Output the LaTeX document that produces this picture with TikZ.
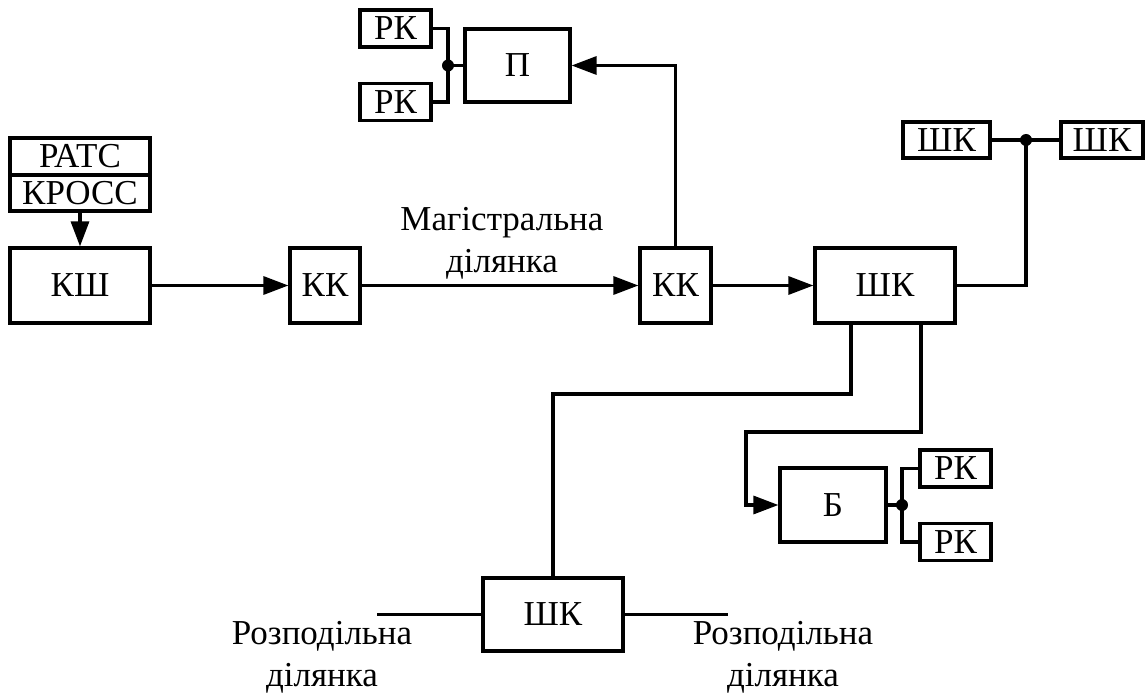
\documentclass[tikz,border=0pt]{standalone}
\usepackage{fontspec}
\setmainfont{Liberation Serif}
\usetikzlibrary{arrows.meta}
\begin{document}
\begin{tikzpicture}[x=1pt,y=-1pt,
  every node/.style={font=\fontsize{35}{42}\selectfont},
  blk/.style={draw,line width=3.2pt,rectangle,inner sep=0pt,anchor=center},
  lbl/.style={align=center,inner sep=0pt,anchor=base},
  wire/.style={line width=3.2pt},
  arr/.style={line width=3.2pt,-{Triangle[length=25pt,width=18pt]}},
  dotc/.style={fill=black}
]
\useasboundingbox (0,0) rectangle (1145,695);

% boxes
\node[blk,minimum width=140pt,minimum height=37pt] (rats) at (80,156.5) {РАТС};
\node[blk,minimum width=140pt,minimum height=36pt] (kross) at (80,193) {КРОСС};
\node[blk,minimum width=140pt,minimum height=75pt] (ksh) at (80,285.5) {КШ};
\node[blk,minimum width=70pt,minimum height=75pt] (kk1) at (325,285.5) {КК};
\node[blk,minimum width=71pt,minimum height=75pt] (kk2) at (675.5,285.5) {КК};
\node[blk,minimum width=140pt,minimum height=75pt] (shk) at (885,285.5) {ШК};
\node[blk,minimum width=105pt,minimum height=73pt] (p) at (517.5,65.5) {П};
\node[blk,minimum width=71pt,minimum height=37pt] (rk1) at (395.5,28.5) {РК};
\node[blk,minimum width=71pt,minimum height=37pt] (rk2) at (395.5,102) {РК};
\node[blk,minimum width=87pt,minimum height=36pt] (shtl) at (946.5,140) {ШК};
\node[blk,minimum width=82pt,minimum height=36pt] (shtr) at (1102,140) {ШК};
\node[blk,minimum width=106pt,minimum height=74pt] (b) at (833,505) {Б};
\node[blk,minimum width=71pt,minimum height=37pt] (rk3) at (955.5,468.5) {РК};
\node[blk,minimum width=71pt,minimum height=37pt] (rk4) at (955.5,542) {РК};
\node[blk,minimum width=140pt,minimum height=73pt] (shb) at (553,614.5) {ШК};

% labels (base = baseline of last line)
\node[lbl] (mag) at (502,272) {Магістральна\\ділянка};
\node[lbl] (rozl) at (322,686) {Розподільна\\ділянка};
\node[lbl] (rozr) at (783,686) {Розподільна\\ділянка};

% coordinates
\coordinate (d1) at (448,65.5);
\coordinate (d2) at (1026,140);
\coordinate (d3) at (902,505);
\coordinate (j1) at (851,394);
\coordinate (j2) at (921,432);
\coordinate (j3) at (746,432);
\coordinate (el) at (377,614.5);
\coordinate (er) at (728,614.5);

% connectors
\draw[arr] (kross.south) -- (ksh.north);
\draw[arr] (ksh.east) -- (kk1.west);
\draw[arr] (kk1.east) -- (kk2.west);
\draw[arr] (kk2.east) -- (shk.west);
\draw[arr] (kk2.north) |- (p.east);
\draw[wire] (rk1.east) -| (d1) |- (rk2.east);
\draw[wire] (d1) -- (p.west);
\draw[wire] (shk.east) -| (d2);
\draw[wire] (shtl.east) -- (shtr.west);
\draw[wire] (shk.south -| j1) -- (j1) -| (shb.north);
\draw[arr] (shk.south -| j2) -- (j2) -- (j3) |- (b.west);
\draw[wire] (b.east) -- (d3);
\draw[wire] (rk3.west) -| (d3) |- (rk4.west);
\draw[wire] (shb.west) -- (el);
\draw[wire] (shb.east) -- (er);

\fill[dotc] (d1) circle (6pt);
\fill[dotc] (d2) circle (6pt);
\fill[dotc] (d3) circle (6pt);
\end{tikzpicture}
\end{document}
